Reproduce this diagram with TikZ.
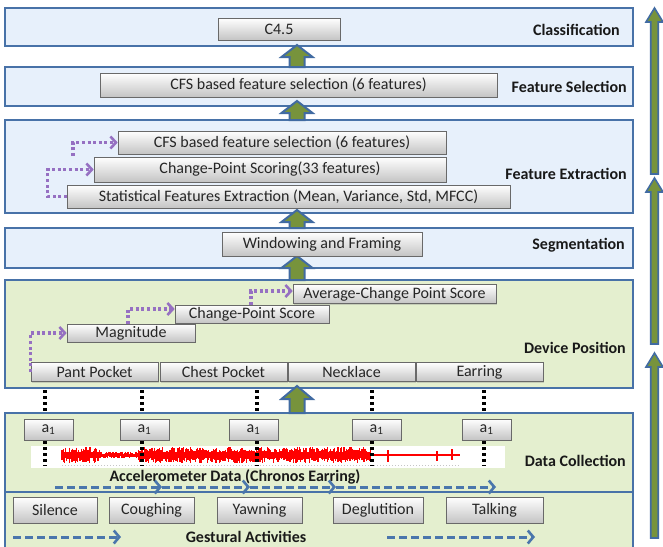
\documentclass[tikz,border=0pt]{standalone}
\usepackage{fontspec}
\setmainfont{Carlito}
\usetikzlibrary{arrows.meta,shadows,calc}
\definecolor{bandblue}{RGB}{231,240,251}
\definecolor{bandgreen}{RGB}{228,239,207}
\definecolor{bandline}{RGB}{72,114,168}
\definecolor{arrowgreen}{RGB}{119,147,60}
\definecolor{arrowline}{RGB}{65,107,162}
\definecolor{dashblue}{RGB}{74,118,172}
\definecolor{dotpurple}{RGB}{150,112,194}
\definecolor{boxline}{RGB}{105,105,105}
\definecolor{boxgray}{RGB}{196,196,196}
\definecolor{sigred}{RGB}{255,0,0}
\newcommand{\upblock}[7]{%
 \draw[#7] ({#1-#4/2},#3) -- ({#1-#4/2},{#2+#6}) -- ({#1-#5/2},{#2+#6}) -- (#1,#2) -- ({#1+#5/2},{#2+#6}) -- ({#1+#4/2},{#2+#6}) -- ({#1+#4/2},#3) -- cycle;}
\begin{document}
\begin{tikzpicture}[x=1pt,y=-1pt,
  band/.style={draw=bandline,line width=1.5pt},
  bluebd/.style={band,fill=bandblue},
  greenbd/.style={band,fill=bandgreen},
  bbox/.style={draw=boxline,line width=0.6pt,top color=white,bottom color=boxgray,inner sep=0pt,text=black!85,font=\fontsize{16}{18}\selectfont,drop shadow={shadow xshift=1pt,shadow yshift=-1.2pt,opacity=0.3}},
  lbl/.style={font=\bfseries\fontsize{16}{18}\selectfont,anchor=east,inner sep=0pt,text=black!90},
  btxt/.style={font=\bfseries\fontsize{16}{18}\selectfont,inner sep=0pt,text=black!90},
  garrow/.style={fill=arrowgreen,draw=arrowline,line width=2pt,line join=miter},
  rarrow/.style={fill=arrowgreen,draw=arrowline,line width=1.6pt,line join=miter},
  pdot/.style={draw=dotpurple,line width=3.2pt,dash pattern=on 3pt off 2.6pt,-{Straight Barb[length=5.5pt,width=12pt,line width=2.6pt]}},
  bdash/.style={draw=dashblue,line width=3pt,dash pattern=on 8pt off 4pt,-{Straight Barb[length=5.5pt,width=13pt,line width=2.6pt]}},
  kdot/.style={draw=black,line width=3.2pt,dash pattern=on 3pt off 3pt},
]
\useasboundingbox (0,0) rectangle (663,546);

% bands
\draw[bluebd] (5,8) rectangle (633,46);
\draw[bluebd] (5,67) rectangle (633,106);
\draw[bluebd] (5,120) rectangle (633,213);
\draw[bluebd] (5,228) rectangle (633,268);
\draw[greenbd] (5,280) rectangle (633,388);
\draw[greenbd] (5,413) rectangle (633,492);
\draw[greenbd] (5,492) rectangle (633,552);

% band labels
\node[lbl] (lcl) at (620,30) {Classification};
\node[lbl] (lfs) at (627,87) {Feature Selection};
\node[lbl] (lfe) at (627,174) {Feature Extraction};
\node[lbl] (lsg) at (625,245) {Segmentation};
\node[lbl] (ldp) at (626,348) {Device Position};
\node[lbl] (ldc) at (626,461) {Data Collection};

% right side arrows
\upblock{654.5}{8}{174}{7.5}{17}{14}{rarrow}
\upblock{654.5}{178}{344}{7.5}{17}{14}{rarrow}
\upblock{654.5}{353}{538}{7.5}{17}{14}{rarrow}

% central block arrows
\upblock{297}{45}{67}{15}{31}{12}{garrow}
\upblock{297}{101}{120}{15}{31}{12}{garrow}
\upblock{297}{210}{228}{15}{31}{12}{garrow}
\upblock{297}{256}{280}{15}{31}{12}{garrow}
\upblock{297}{386}{413}{15}{31}{13}{garrow}

% boxes
\node[bbox,minimum width=122pt,minimum height=22pt] (c45) at (279,29) {C4.5};
\node[bbox,minimum width=397pt,minimum height=24pt] (fs) at (298.5,85) {CFS based feature selection (6 features)};
\node[bbox,minimum width=443pt,minimum height=23pt] (fe1) at (288.5,196.5) {Statistical Features Extraction (Mean, Variance, Std, MFCC)};
\node[bbox,minimum width=352pt,minimum height=25pt] (fe2) at (270,169.5) {Change-Point Scoring(33 features)};
\node[bbox,minimum width=328pt,minimum height=23pt] (fe3) at (282,142.5) {CFS based feature selection (6 features)};
\node[bbox,minimum width=200pt,minimum height=24pt] (win) at (322,244) {Windowing and Framing};
\node[bbox,minimum width=127pt,minimum height=19pt] (pant) at (94.5,372) {Pant Pocket};
\node[bbox,minimum width=127pt,minimum height=19pt] (chest) at (223.5,372) {Chest Pocket};
\node[bbox,minimum width=127pt,minimum height=19pt] (neck) at (351.5,372) {Necklace};
\node[bbox,minimum width=127pt,minimum height=19pt] (ear) at (479.5,372) {Earring};
\node[bbox,minimum width=128pt,minimum height=18pt] (mag) at (131,333) {Magnitude};
\node[bbox,minimum width=154pt,minimum height=18pt] (cps) at (252,314) {Change-Point Score};
\node[bbox,minimum width=203pt,minimum height=19pt] (avg) at (394.5,294) {Average-Change Point Score};

% purple dotted arrows
\coordinate (fe2s) at (73,156);
\draw[pdot] (fe1.west) -- ++(-19,0) |- (fe2.west);
\draw[pdot] (fe2s) |- (fe3.west);
\draw[pdot] (pant.west) |- (mag.west);
\draw[pdot] ($(mag.north)+(-3,0)$) |- ($(cps.west)+(0,-5)$);
\draw[pdot] ($(cps.north)+(-1,0)$) |- ($(avg.west)+(0,-3)$);

% accelerometer strip
\fill[white] (31,446) rectangle (505,468);
\pgfmathsetseed{12}
\begin{scope}
\clip (60,446) rectangle (470,466);
\draw[sigred,line width=1.1pt] (62,455) -- (460,455);
\foreach \i in {0,...,257} {
  \pgfmathsetmacro\xx{62+1.2*\i}
  \pgfmathsetmacro\amp{((\xx<100)||(\xx>138)) ? 8 : 3.5}
  \pgfmathsetmacro\ya{455-\amp*(0.35+0.65*rnd)}
  \pgfmathsetmacro\yb{455+\amp*(0.35+0.65*rnd)}
  \draw[sigred,line width=1.3pt] (\xx,\ya) -- (\xx,\yb);
}
\draw[sigred,line width=1.2pt] (388,450) -- (388,462);
\draw[sigred,line width=1.2pt] (437,451) -- (437,461);
\draw[sigred,line width=1.2pt] (452,449) -- (452,460);
\end{scope}
\draw[gray!45,line width=0.6pt,dash pattern=on 1pt off 2pt] (62,465) -- (460,465);

% black dotted lines
\foreach \n/\xx in {1/45,2/142,3/257,4/372,5/484} {
  \coordinate (k\n t) at (\xx,390);
  \coordinate (k\n m) at (\xx,412);
  \coordinate (k\n c) at (\xx,441);
  \coordinate (k\n b) at (\xx,466);
  \draw[kdot] (k\n t) -- (k\n m);
  \draw[kdot] (k\n c) -- (k\n b);
}

% a1 boxes
\foreach \n/\xx in {1/48.5,2/144.5,3/253.5,4/376.5,5/486.5} {
  \node[bbox,minimum width=49pt,minimum height=21pt] (a\n) at (\xx,429.5) {a\textsubscript{1}};
}

\node[btxt] (acc) at (235,477) {Accelerometer Data (Chronos Earring)};
\coordinate (d0) at (55,487);
\coordinate (d1) at (162,487);
\coordinate (d2) at (250,487);
\coordinate (d3) at (336,487);
\coordinate (d4) at (496,487);
\draw[bdash] (d0) -- (d1);
\draw[bdash] (d1) -- (d2);
\draw[bdash] (d2) -- (d3);
\draw[bdash] (d3) -- (d4);

% gestural activities
\node[bbox,minimum width=84pt,minimum height=26pt] (sil) at (55,510) {Silence};
\node[bbox,minimum width=85pt,minimum height=26pt] (cou) at (151.5,510) {Coughing};
\node[bbox,minimum width=85pt,minimum height=26pt] (yaw) at (259.5,510) {Yawning};
\node[bbox,minimum width=90pt,minimum height=26pt] (deg) at (378,510) {Deglutition};
\node[bbox,minimum width=97pt,minimum height=26pt] (tal) at (494.5,510) {Talking};
\node[btxt] (ges) at (246,537) {Gestural Activities};
\coordinate (g0) at (13,537);
\coordinate (g1) at (121,537);
\coordinate (g2) at (387,537);
\coordinate (g3) at (535,537);
\draw[bdash] (g0) -- (g1);
\draw[bdash] (g2) -- (g3);
\end{tikzpicture}
\end{document}
